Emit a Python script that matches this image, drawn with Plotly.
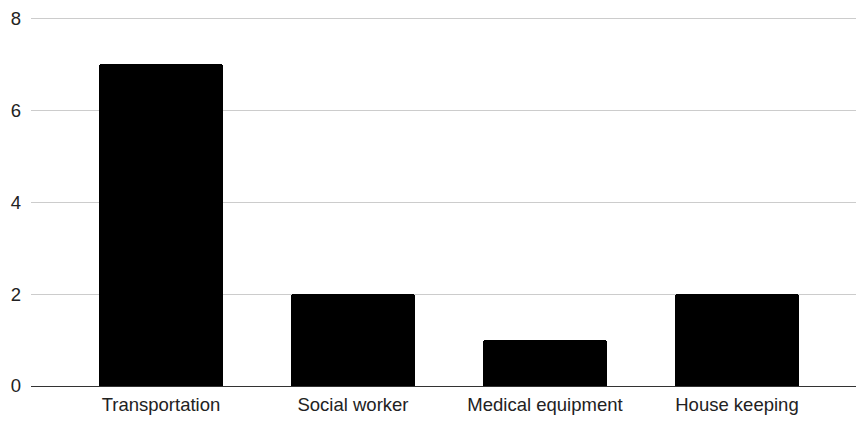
import plotly.graph_objects as go

categories = ["Transportation", "Social worker", "Medical equipment", "House keeping"]
values = [7, 2, 1, 2]
y_ticks = [0, 2, 4, 6, 8]

fig = go.Figure(go.Bar(
    x=categories, y=values,
    marker=dict(color="#000000", cornerradius=3, line=dict(width=0)),
    width=0.645,
))

fig.update_layout(
    width=856, height=421,
    margin=dict(l=31, r=0, t=16, b=35),
    paper_bgcolor="white", plot_bgcolor="white",
    font=dict(family="Liberation Sans, Arial, sans-serif", size=18, color="#222222"),
    showlegend=False,
    bargap=0,
)
fig.update_xaxes(
    range=[-0.677, 3.62],
    showgrid=False,
    showline=True, linecolor="#333333", linewidth=1,
    ticks="", ticklabelstandoff=2,
    tickfont=dict(size=18.5, color="#222222"),
)
fig.update_yaxes(
    range=[0, 8.05], tickvals=y_ticks,
    showgrid=True, gridcolor="#cccccc", gridwidth=1,
    zeroline=False,
    ticks="", ticklabelstandoff=9,
    tickfont=dict(size=18.5, color="#222222"),
)

fig.write_html("out.html")
